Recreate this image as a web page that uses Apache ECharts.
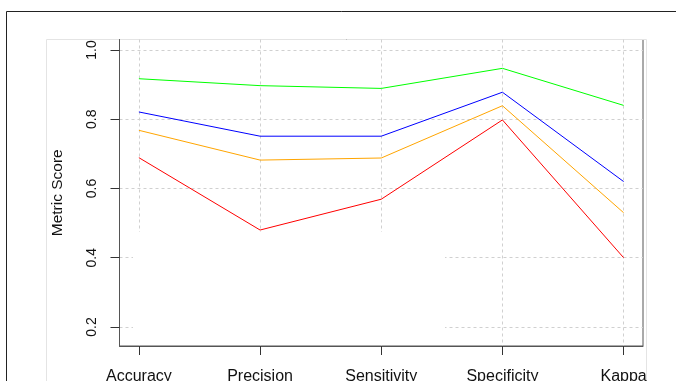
<!DOCTYPE html>
<html>
<head>
<meta charset="utf-8">
<script src="https://cdn.jsdelivr.net/npm/echarts@6/dist/echarts.min.js"></script>
<style>html,body{margin:0;padding:0;background:#fff}#c{width:676px;height:381px}</style>
</head>
<body>
<div id="c"></div>
<script>
var categories = ['Accuracy', 'Precision', 'Sensitivity', 'Specificity', 'Kappa'];
var greenValues = [0.917, 0.897, 0.889, 0.947, 0.84];
var blueValues = [0.821, 0.751, 0.751, 0.878, 0.62];
var orangeValues = [0.768, 0.682, 0.688, 0.839, 0.53];
var redValues = [0.689, 0.48, 0.569, 0.798, 0.40];
var yTicks = [0.2, 0.4, 0.6, 0.8, 1.0];

var xIdx = categories.map(function (c, i) { return i; });
function pts(vals) { return vals.map(function (v, i) { return [i, v]; }); }
function line(name, vals, color) {
  return { name: name, type: 'line', data: pts(vals), symbol: 'none', z: 3,
    lineStyle: { color: color, width: 1 }, itemStyle: { color: color } };
}
var FONT = 'Liberation Sans, Arial, sans-serif';
var chart = echarts.init(document.getElementById('c'), null, { renderer: 'canvas' });
chart.setOption({
  animation: false,
  backgroundColor: '#ffffff',
  grid: { left: 119.5, top: 39.5, right: 33, bottom: 35, containLabel: false, outerBoundsMode: 'none', show: true, borderColor: '#555', borderWidth: 1, backgroundColor: 'transparent' },
  xAxis: {
    type: 'value', min: -0.16, max: 4.16,
    axisLine: { show: true, onZero: false, lineStyle: { color: '#555', width: 1 } },
    axisTick: { show: true, inside: false, customValues: xIdx, length: 9, lineStyle: { color: '#333', width: 1 } },
    axisLabel: { customValues: xIdx, formatter: function (v) { return categories[Math.round(v)] || ''; }, fontSize: 16, fontFamily: FONT, color: '#111', margin: 23 },
    splitLine: { show: true, customValues: xIdx, lineStyle: { color: '#d0d0d0', type: [3, 3], width: 1 } }
  },
  yAxis: {
    type: 'value', min: 0.145, max: 1.0303,
    name: 'Metric Score', nameLocation: 'middle', nameRotate: 90, nameGap: 54,
    nameTextStyle: { fontSize: 15.5, fontFamily: FONT, color: '#111' },
    axisLine: { show: true, onZero: false, lineStyle: { color: '#555', width: 1 } },
    axisTick: { show: true, inside: false, customValues: yTicks, length: 9, lineStyle: { color: '#333', width: 1 } },
    axisLabel: { customValues: yTicks, rotate: 90, formatter: function (v) { return v.toFixed(1); }, fontSize: 14, fontFamily: FONT, color: '#111', margin: 20 },
    splitLine: { show: true, customValues: yTicks, lineStyle: { color: '#d0d0d0', type: [3, 3], width: 1 } }
  },
  graphic: [
    { type: 'rect', z: 0, shape: { x: 6.5, y: 11.5, width: 720, height: 420 }, style: { fill: null, stroke: '#222', lineWidth: 1 } },
    { type: 'rect', z: 0, shape: { x: 46.5, y: 39.5, width: 600, height: 400 }, style: { fill: null, stroke: '#e4e4e4', lineWidth: 1 } },
    { type: 'rect', z: 1, shape: { x: 133, y: 232, width: 312, height: 112 }, style: { fill: '#ffffff', stroke: null } }
  ],
  series: [
    line('green', greenValues, '#00ff00'),
    line('blue', blueValues, '#0000ff'),
    line('orange', orangeValues, '#ffa500'),
    line('red', redValues, '#ff0000')
  ]
});
</script>
</body>
</html>
